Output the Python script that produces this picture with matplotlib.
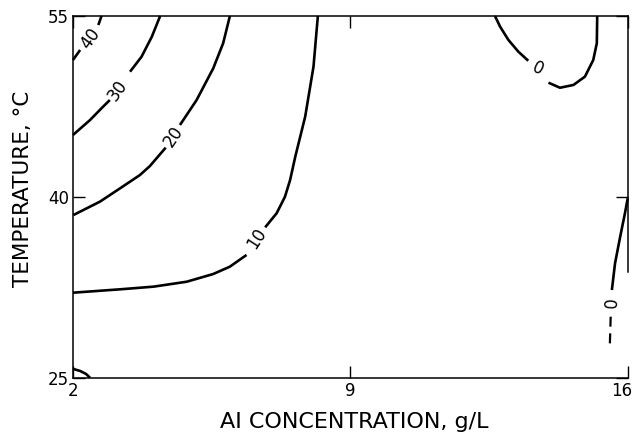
import matplotlib
matplotlib.use("Agg")
import matplotlib.pyplot as plt
from matplotlib.transforms import ScaledTranslation

# contour lines: (Al conc g/L, temperature C)
# each level split into the piece before and after its inline label
c40_a_x = [2.00, 2.18]
c40_a_y = [51.35, 52.18]
c40_b_x = [2.64, 2.72]
c40_b_y = [54.25, 55.0]

c30_a_x = [2.00, 2.43, 2.76, 2.93]
c30_a_y = [45.13, 46.37, 47.48, 48.03]
c30_b_x = [3.44, 3.73, 3.99, 4.20]
c30_b_y = [50.38, 51.62, 53.28, 55.0]

c20_a_x = [2.01, 2.68, 3.19, 3.69, 3.94, 4.34]
c20_a_y = [38.49, 39.60, 40.71, 41.81, 42.55, 44.08]
c20_b_x = [4.70, 5.12, 5.54, 5.79, 5.96]
c20_b_y = [45.96, 48.03, 50.66, 52.74, 55.0]

c10_a_x = [2.00, 3.19, 4.03, 4.87, 5.54, 5.96, 6.38]
c10_a_y = [32.05, 32.33, 32.55, 32.96, 33.60, 34.21, 35.18]
c10_b_x = [6.85, 7.14, 7.35, 7.48, 7.61, 7.86, 8.07, 8.18]
c10_b_y = [37.47, 38.64, 40.01, 41.40, 43.33, 46.65, 50.80, 55.0]

c0top_a_x = [12.65, 12.78, 12.99, 13.24, 13.49]
c0top_a_y = [55.0, 54.11, 53.01, 52.04, 51.29]
c0top_b_x = [14.00, 14.29, 14.63, 14.92, 15.13, 15.22, 15.23]
c0top_b_y = [49.47, 49.05, 49.28, 49.97, 51.35, 52.74, 55.0]

c0right_x = [16.0, 15.93, 15.81, 15.68, 15.60]
c0right_y = [39.88, 38.64, 36.70, 34.49, 32.27]
c0right_dash_x = [15.57, 15.55]
c0right_dash_y = [30.06, 27.85]

corner_x = [2.01, 2.18, 2.33, 2.43]
corner_y = [25.72, 25.56, 25.31, 25.0]

# inline labels: text, x, y, rotation
contour_labels = [("40", 2.43, 53.15, 54),
                  ("30", 3.14, 48.86, 55),
                  ("20", 4.53, 44.99, 56),
                  ("10", 6.64, 36.56, 57),
                  ("0", 13.74, 50.66, -25),
                  ("0", 15.60, 31.22, 88)]

x_ticks = [2, 9, 16]
y_ticks = [25, 40, 55]

fig = plt.figure(figsize=(6.34, 4.42), dpi=100)
ax = fig.add_axes([0.1151, 0.1455, 0.875, 0.8183])

lw = 1.9
for xs, ys in [(c40_a_x, c40_a_y), (c40_b_x, c40_b_y),
               (c30_a_x, c30_a_y), (c30_b_x, c30_b_y),
               (c20_a_x, c20_a_y), (c20_b_x, c20_b_y),
               (c10_a_x, c10_a_y), (c10_b_x, c10_b_y),
               (c0top_a_x, c0top_a_y), (c0top_b_x, c0top_b_y),
               (c0right_x, c0right_y), (corner_x, corner_y)]:
    ax.plot(xs, ys, color='black', lw=lw, solid_capstyle='butt',
            solid_joinstyle='round', clip_on=False)
ax.plot(c0right_dash_x, c0right_dash_y, color='black', lw=1.6,
        linestyle=(0, (4.5, 3)), dash_capstyle='butt')

for txt, x, y, rot in contour_labels:
    ax.text(x, y, txt, fontsize=12, rotation=rot, ha='center', va='center',
            rotation_mode='anchor')

ax.set_xlim(2, 16)
ax.set_ylim(25, 55)
ax.set_xticks(x_ticks)
ax.set_yticks(y_ticks)
ax.tick_params(direction='in', length=8.4, width=1.0, top=True, right=True,
               labelsize=12, pad=3)
for s in ax.spines.values():
    s.set_linewidth(1.1)
ax.spines['right'].set_bounds(33.8, 55)

# last x tick label sits flush with the right edge
lab16 = ax.get_xticklabels()[-1]
lab16.set_horizontalalignment('right')
lab16.set_transform(lab16.get_transform() + ScaledTranslation(0.05, 0, fig.dpi_scale_trans))

ax.set_xlabel("AI CONCENTRATION, g/L", fontsize=16)
ax.set_ylabel("TEMPERATURE, °C", fontsize=15.5)
ax.xaxis.set_label_coords(0.5066, -0.094)
ax.yaxis.set_label_coords(-0.072, 0.523)

fig.savefig("out.png", dpi=100)
